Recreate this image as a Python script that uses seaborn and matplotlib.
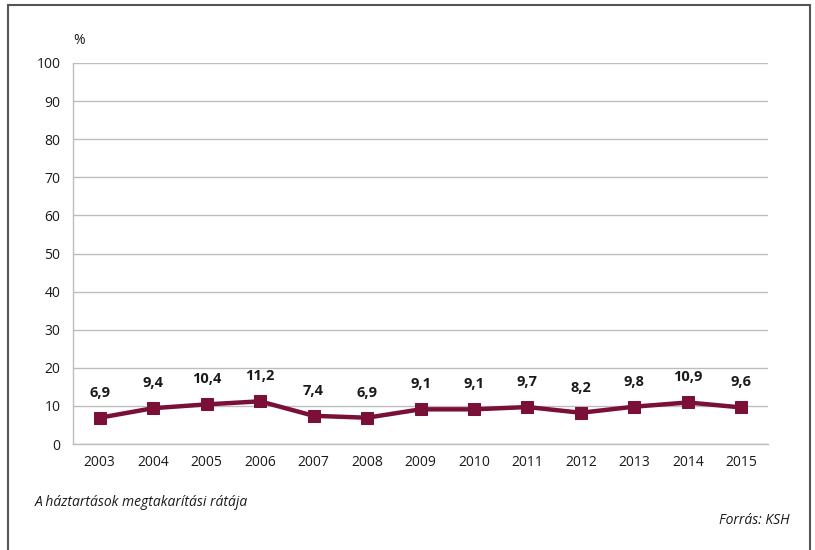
import matplotlib
matplotlib.use('Agg')
import matplotlib.pyplot as plt
import seaborn as sns
import pandas as pd
from matplotlib.patches import Rectangle

# data
years = ['2003', '2004', '2005', '2006', '2007', '2008', '2009',
         '2010', '2011', '2012', '2013', '2014', '2015']
rate = [6.9, 9.4, 10.4, 11.2, 7.4, 6.9, 9.1, 9.1, 9.7, 8.2, 9.8, 10.9, 9.6]
labels = ['6,9', '9,4', '10,4', '11,2', '7,4', '6,9', '9,1',
          '9,1', '9,7', '8,2', '9,8', '10,9', '9,6']

df = pd.DataFrame({'pos': range(len(years)), 'year': years, 'rate': rate})

sns.set_style('white')
plt.rcParams['font.family'] = ['Open Sans', 'DejaVu Sans']

line_color = '#7A1038'
grid_color = '#BDBDBD'

fig = plt.figure(figsize=(8.15, 5.5), dpi=100)
ax = fig.add_axes([73 / 815, 1 - 444 / 550, (768 - 73) / 815, (444 - 63) / 550])

sns.lineplot(data=df, x='pos', y='rate', ax=ax, color=line_color, linewidth=3.2,
             marker='s', markersize=8, markeredgecolor=line_color)

for i, (v, lab) in enumerate(zip(rate, labels)):
    ax.annotate(lab, (i, v), xytext=(0, 13), textcoords='offset points',
                ha='center', va='bottom', fontsize=10.5, fontweight='bold', color='#1a1a1a')

ax.set_xlim(-0.5, len(years) - 0.5)
ax.set_ylim(0, 100)
ax.set_yticks(range(0, 101, 10))
ax.set_xticks(range(len(years)))
ax.set_xticklabels(years)
ax.set_xticks([i - 0.5 for i in range(len(years) + 1)], minor=True)
ax.tick_params(axis='x', which='major', length=0, pad=8, labelsize=10, colors='#1a1a1a')
ax.tick_params(axis='x', which='minor', length=5, color=grid_color, width=1)
ax.tick_params(axis='y', length=5, color=grid_color, width=1, labelsize=10, colors='#1a1a1a', pad=4)
for lab in ax.get_yticklabels():
    lab.set_color('#1a1a1a')
ax.yaxis.grid(True, color=grid_color, linewidth=1)
ax.set_axisbelow(True)
for s in ['top', 'right']:
    ax.spines[s].set_visible(False)
for s in ['left', 'bottom']:
    ax.spines[s].set_color(grid_color)
    ax.spines[s].set_linewidth(1)
ax.set_xlabel('')
ax.set_ylabel('')

fig.text(73 / 815, 1 - 40 / 550, '%', fontsize=10, ha='left', va='center', color='#1a1a1a')
fig.text(35 / 815, 1 - 503 / 550, 'A háztartások megtakarítási rátája', fontsize=10,
         style='italic', ha='left', va='center', color='#1a1a1a')
fig.text(790 / 815, 1 - 521 / 550, 'Forrás: KSH', fontsize=10, style='italic',
         ha='right', va='center', color='#1a1a1a')

# frame around the figure
fig.patches.append(Rectangle((8 / 815, -0.01), (810 - 8) / 815, 1 - 5 / 550 + 0.01,
                             transform=fig.transFigure, fill=False,
                             edgecolor='#555555', linewidth=1.5))

plt.savefig('out.png', dpi=100)
